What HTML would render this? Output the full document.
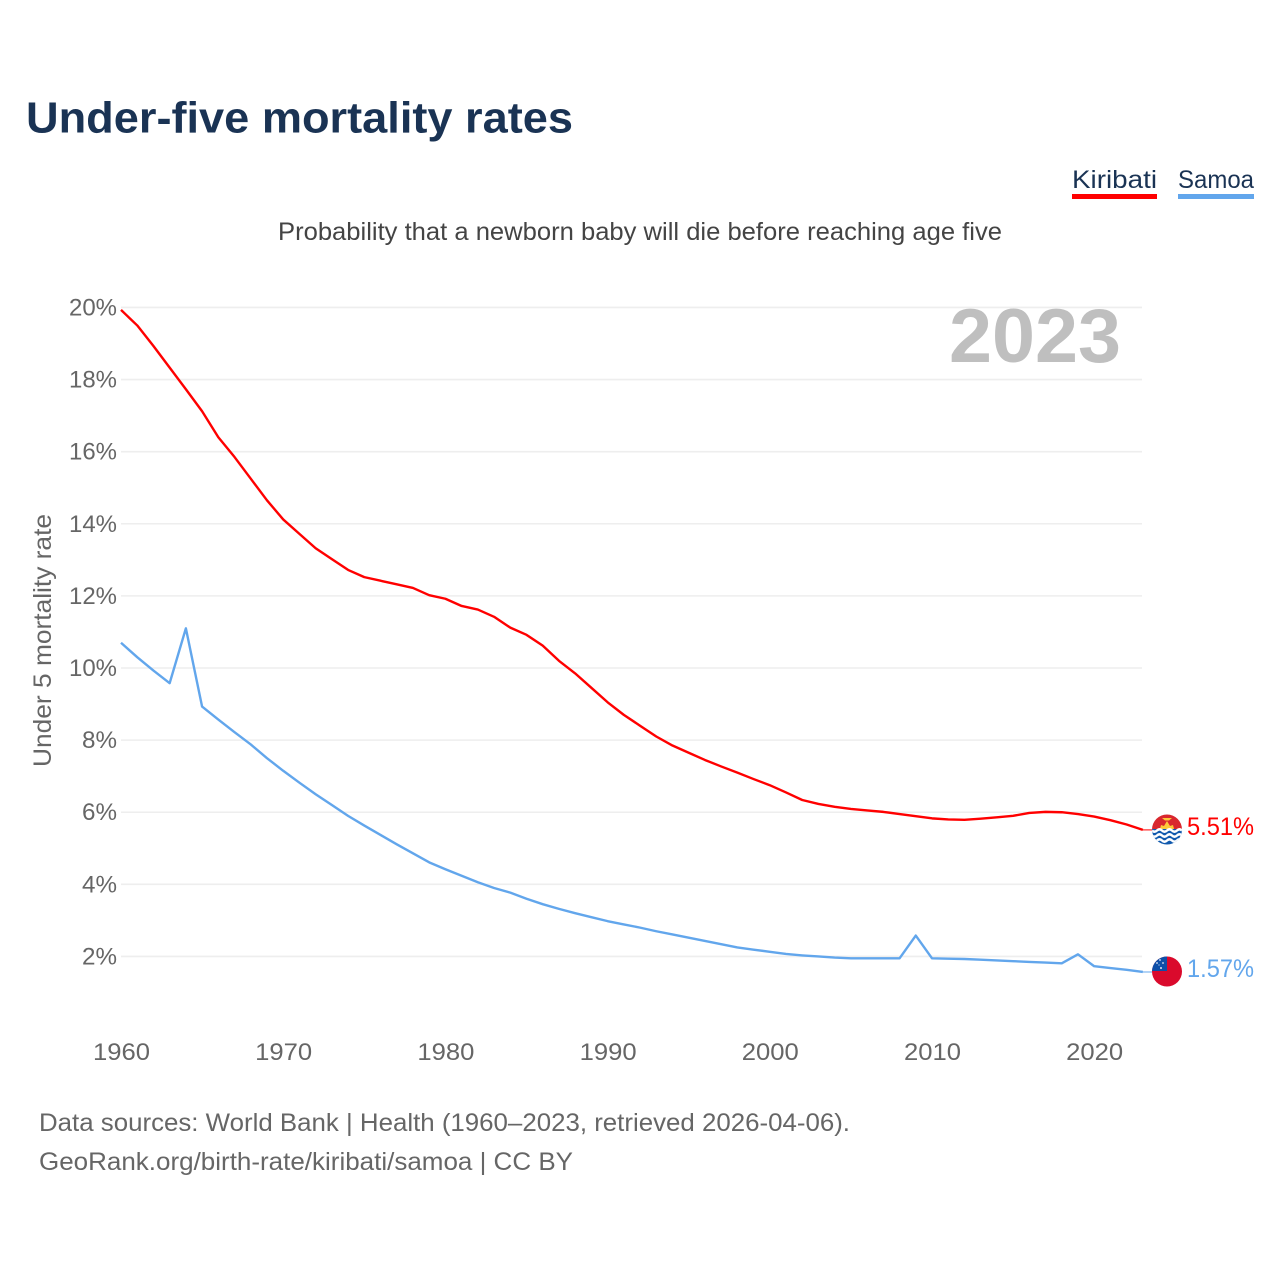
<!DOCTYPE html>
<html lang="en">
<head>
<meta charset="utf-8">
<title>Under-five mortality rates</title>
<style>
html,body{margin:0;padding:0;background:#fff;}
svg{display:block;font-family:"Liberation Sans",sans-serif;}
</style>
</head>
<body>
<svg id="chart" xmlns="http://www.w3.org/2000/svg" width="1280" height="1280" viewBox="0 0 1280 1280">
  <defs>
    <clipPath id="flag-clip-k"><circle cx="1167" cy="829.5" r="15"/></clipPath>
    <clipPath id="flag-clip-s"><circle cx="1167" cy="971.5" r="15"/></clipPath>
  </defs>
  <rect x="0" y="0" width="1280" height="1280" fill="#fff"/>
  <text x="26" y="132.5" font-size="44" font-weight="700" fill="#1a3354" textLength="547" lengthAdjust="spacingAndGlyphs">Under-five mortality rates</text>
  <text x="1072" y="188" font-size="25" fill="#1a3354" textLength="85" lengthAdjust="spacingAndGlyphs">Kiribati</text>
  <rect x="1072" y="194" width="85" height="5" fill="#ff0000"/>
  <text x="1178" y="188" font-size="25" fill="#1a3354" textLength="76" lengthAdjust="spacingAndGlyphs">Samoa</text>
  <rect x="1178" y="194" width="76" height="5" fill="#62a6ec"/>
  <text x="278" y="240" font-size="25" fill="#444" textLength="724" lengthAdjust="spacingAndGlyphs">Probability that a newborn baby will die before reaching age five</text>
  <g id="grid"></g>
  <g id="y-ticks"></g>
  <g id="x-ticks"></g>
  <text transform="translate(51,640.5) rotate(-90)" text-anchor="middle" font-size="25" fill="#666" textLength="253" lengthAdjust="spacingAndGlyphs">Under 5 mortality rate</text>
  <text x="949" y="362" font-size="76" font-weight="700" fill="#bfbfbf" textLength="172" lengthAdjust="spacingAndGlyphs">2023</text>
  <g id="series"></g>
  <g clip-path="url(#flag-clip-k)">
    <rect x="1152" y="814" width="30" height="16" fill="#d9272e"/>
    <rect x="1152" y="829" width="30" height="17" fill="#1059ad"/>
    <path d="M1160 829 L1161 825 L1164 826 L1167 821 L1170 826 L1173 825 L1174 829 Z" fill="#fcc93a"/>
    <path d="M1162 818 h10 l-3 2.5 h-4 Z" fill="#fcc93a"/>
    <path d="M1152 830.5 q2.5 2.4 5 0 t5 0 t5 0 t5 0 t5 0 t5 0" fill="none" stroke="#fff" stroke-width="2.4"/>
    <path d="M1152 835.5 q2.5 2.4 5 0 t5 0 t5 0 t5 0 t5 0 t5 0" fill="none" stroke="#fff" stroke-width="2.4"/>
    <path d="M1152 840.5 q2.5 2.4 5 0 t5 0 t5 0 t5 0 t5 0 t5 0" fill="none" stroke="#fff" stroke-width="2.4"/>
  </g>
  <g clip-path="url(#flag-clip-s)">
    <rect x="1152" y="956" width="30" height="31" fill="#da0a2c"/>
    <rect x="1152" y="956" width="15" height="15" fill="#0d4fa8"/>
    <circle cx="1160" cy="960" r="0.9" fill="#dfe8f5"/>
    <circle cx="1157" cy="963" r="0.9" fill="#dfe8f5"/>
    <circle cx="1163" cy="963" r="0.9" fill="#dfe8f5"/>
    <circle cx="1161" cy="968" r="1" fill="#dfe8f5"/>
    <circle cx="1159" cy="965" r="0.6" fill="#dfe8f5"/>
  </g>
  <text x="1187" y="835" font-size="25" fill="#ff0000" textLength="67" lengthAdjust="spacingAndGlyphs">5.51%</text>
  <text x="1187" y="977" font-size="25" fill="#62a6ec" textLength="67" lengthAdjust="spacingAndGlyphs">1.57%</text>
  <text x="39" y="1131" font-size="25" fill="#666" textLength="811" lengthAdjust="spacingAndGlyphs">Data sources: World Bank | Health (1960–2023, retrieved 2026-04-06).</text>
  <text x="39" y="1170" font-size="25" fill="#666" textLength="534" lengthAdjust="spacingAndGlyphs">GeoRank.org/birth-rate/kiribati/samoa | CC BY</text>
</svg>
<script>
var startYear = 1960;
var xTickYears = [1960, 1970, 1980, 1990, 2000, 2010, 2020];
var yTickValues = [2, 4, 6, 8, 10, 12, 14, 16, 18, 20];
var kiribatiValues = [19.93, 19.5, 18.93, 18.33, 17.73, 17.12, 16.4, 15.85, 15.25, 14.65,
  14.12, 13.72, 13.32, 13.02, 12.72, 12.52, 12.42, 12.32, 12.22, 12.02,
  11.92, 11.72, 11.62, 11.42, 11.12, 10.92, 10.62, 10.2, 9.85, 9.45,
  9.05, 8.7, 8.4, 8.1, 7.85, 7.65, 7.45, 7.27, 7.1, 6.92,
  6.75, 6.55, 6.34, 6.23, 6.15, 6.09, 6.05, 6.01, 5.95, 5.89,
  5.83, 5.8, 5.79, 5.82, 5.86, 5.9, 5.98, 6.01, 6.0, 5.95,
  5.88, 5.78, 5.66, 5.51];
var samoaValues = [10.7, 10.3, 9.93, 9.58, 11.1, 8.93, 8.57, 8.22, 7.88, 7.5,
  7.15, 6.82, 6.5, 6.2, 5.9, 5.63, 5.37, 5.11, 4.86, 4.61,
  4.42, 4.24, 4.06, 3.9, 3.77, 3.6, 3.45, 3.32, 3.2, 3.09,
  2.98, 2.89, 2.8, 2.7, 2.61, 2.52, 2.43, 2.34, 2.25, 2.19,
  2.13, 2.07, 2.03, 2.0, 1.97, 1.95, 1.95, 1.95, 1.95, 2.58,
  1.95, 1.94, 1.93, 1.91, 1.89, 1.87, 1.85, 1.83, 1.81, 2.06,
  1.73, 1.68, 1.63, 1.57];

var NS = 'http://www.w3.org/2000/svg';
function xScale(year) { return 121 + (year - 1960) * 16.22; }
function yScale(v) { return 1028.6 - v * 36.06; }
function make(tag, attrs, parent) {
  var el = document.createElementNS(NS, tag);
  for (var k in attrs) el.setAttribute(k, attrs[k]);
  parent.appendChild(el);
  return el;
}
var grid = document.getElementById('grid');
var yTicks = document.getElementById('y-ticks');
var xTicks = document.getElementById('x-ticks');
var series = document.getElementById('series');

yTickValues.forEach(function (v) {
  var line = make('line', { x1: 121, x2: 1142, y1: yScale(v), y2: yScale(v), stroke: '#eeeeee', 'stroke-width': 1.6 }, grid);
  
  
  var w = String(v).length === 1 ? 35 : 48;
  var t = make('text', { x: 117 - w, y: yScale(v) + 8, 'font-size': 24, fill: '#666', textLength: w, lengthAdjust: 'spacingAndGlyphs' }, yTicks);
  t.textContent = v + '%';
  
  
});

xTickYears.forEach(function (yr) {
  var t = make('text', { x: xScale(yr) - 28, y: 1060, 'font-size': 24, fill: '#666', textLength: 57, lengthAdjust: 'spacingAndGlyphs' }, xTicks);
  t.textContent = String(yr);
  
  
});

function pathFor(values) {
  return values.map(function (v, i) {
    return (i ? 'L' : 'M') + xScale(startYear + i).toFixed(2) + ' ' + yScale(v).toFixed(2);
  }).join(' ');
}
function drawLine(values, color) {
  var p = make('path', { d: pathFor(values), fill: 'none', stroke: color, 'stroke-width': 2.4, 'stroke-linejoin': 'round' }, series);
  var last = values[values.length - 1];
  var c = make('line', { x1: xScale(startYear + values.length - 1), x2: 1152, y1: yScale(last), y2: yScale(last), stroke: color, 'stroke-width': 1 }, series);
  
  
  return p;
}
var kiribatiLine = drawLine(kiribatiValues, '#ff0000');


var samoaLine = drawLine(samoaValues, '#62a6ec');


</script>
</body>
</html>
